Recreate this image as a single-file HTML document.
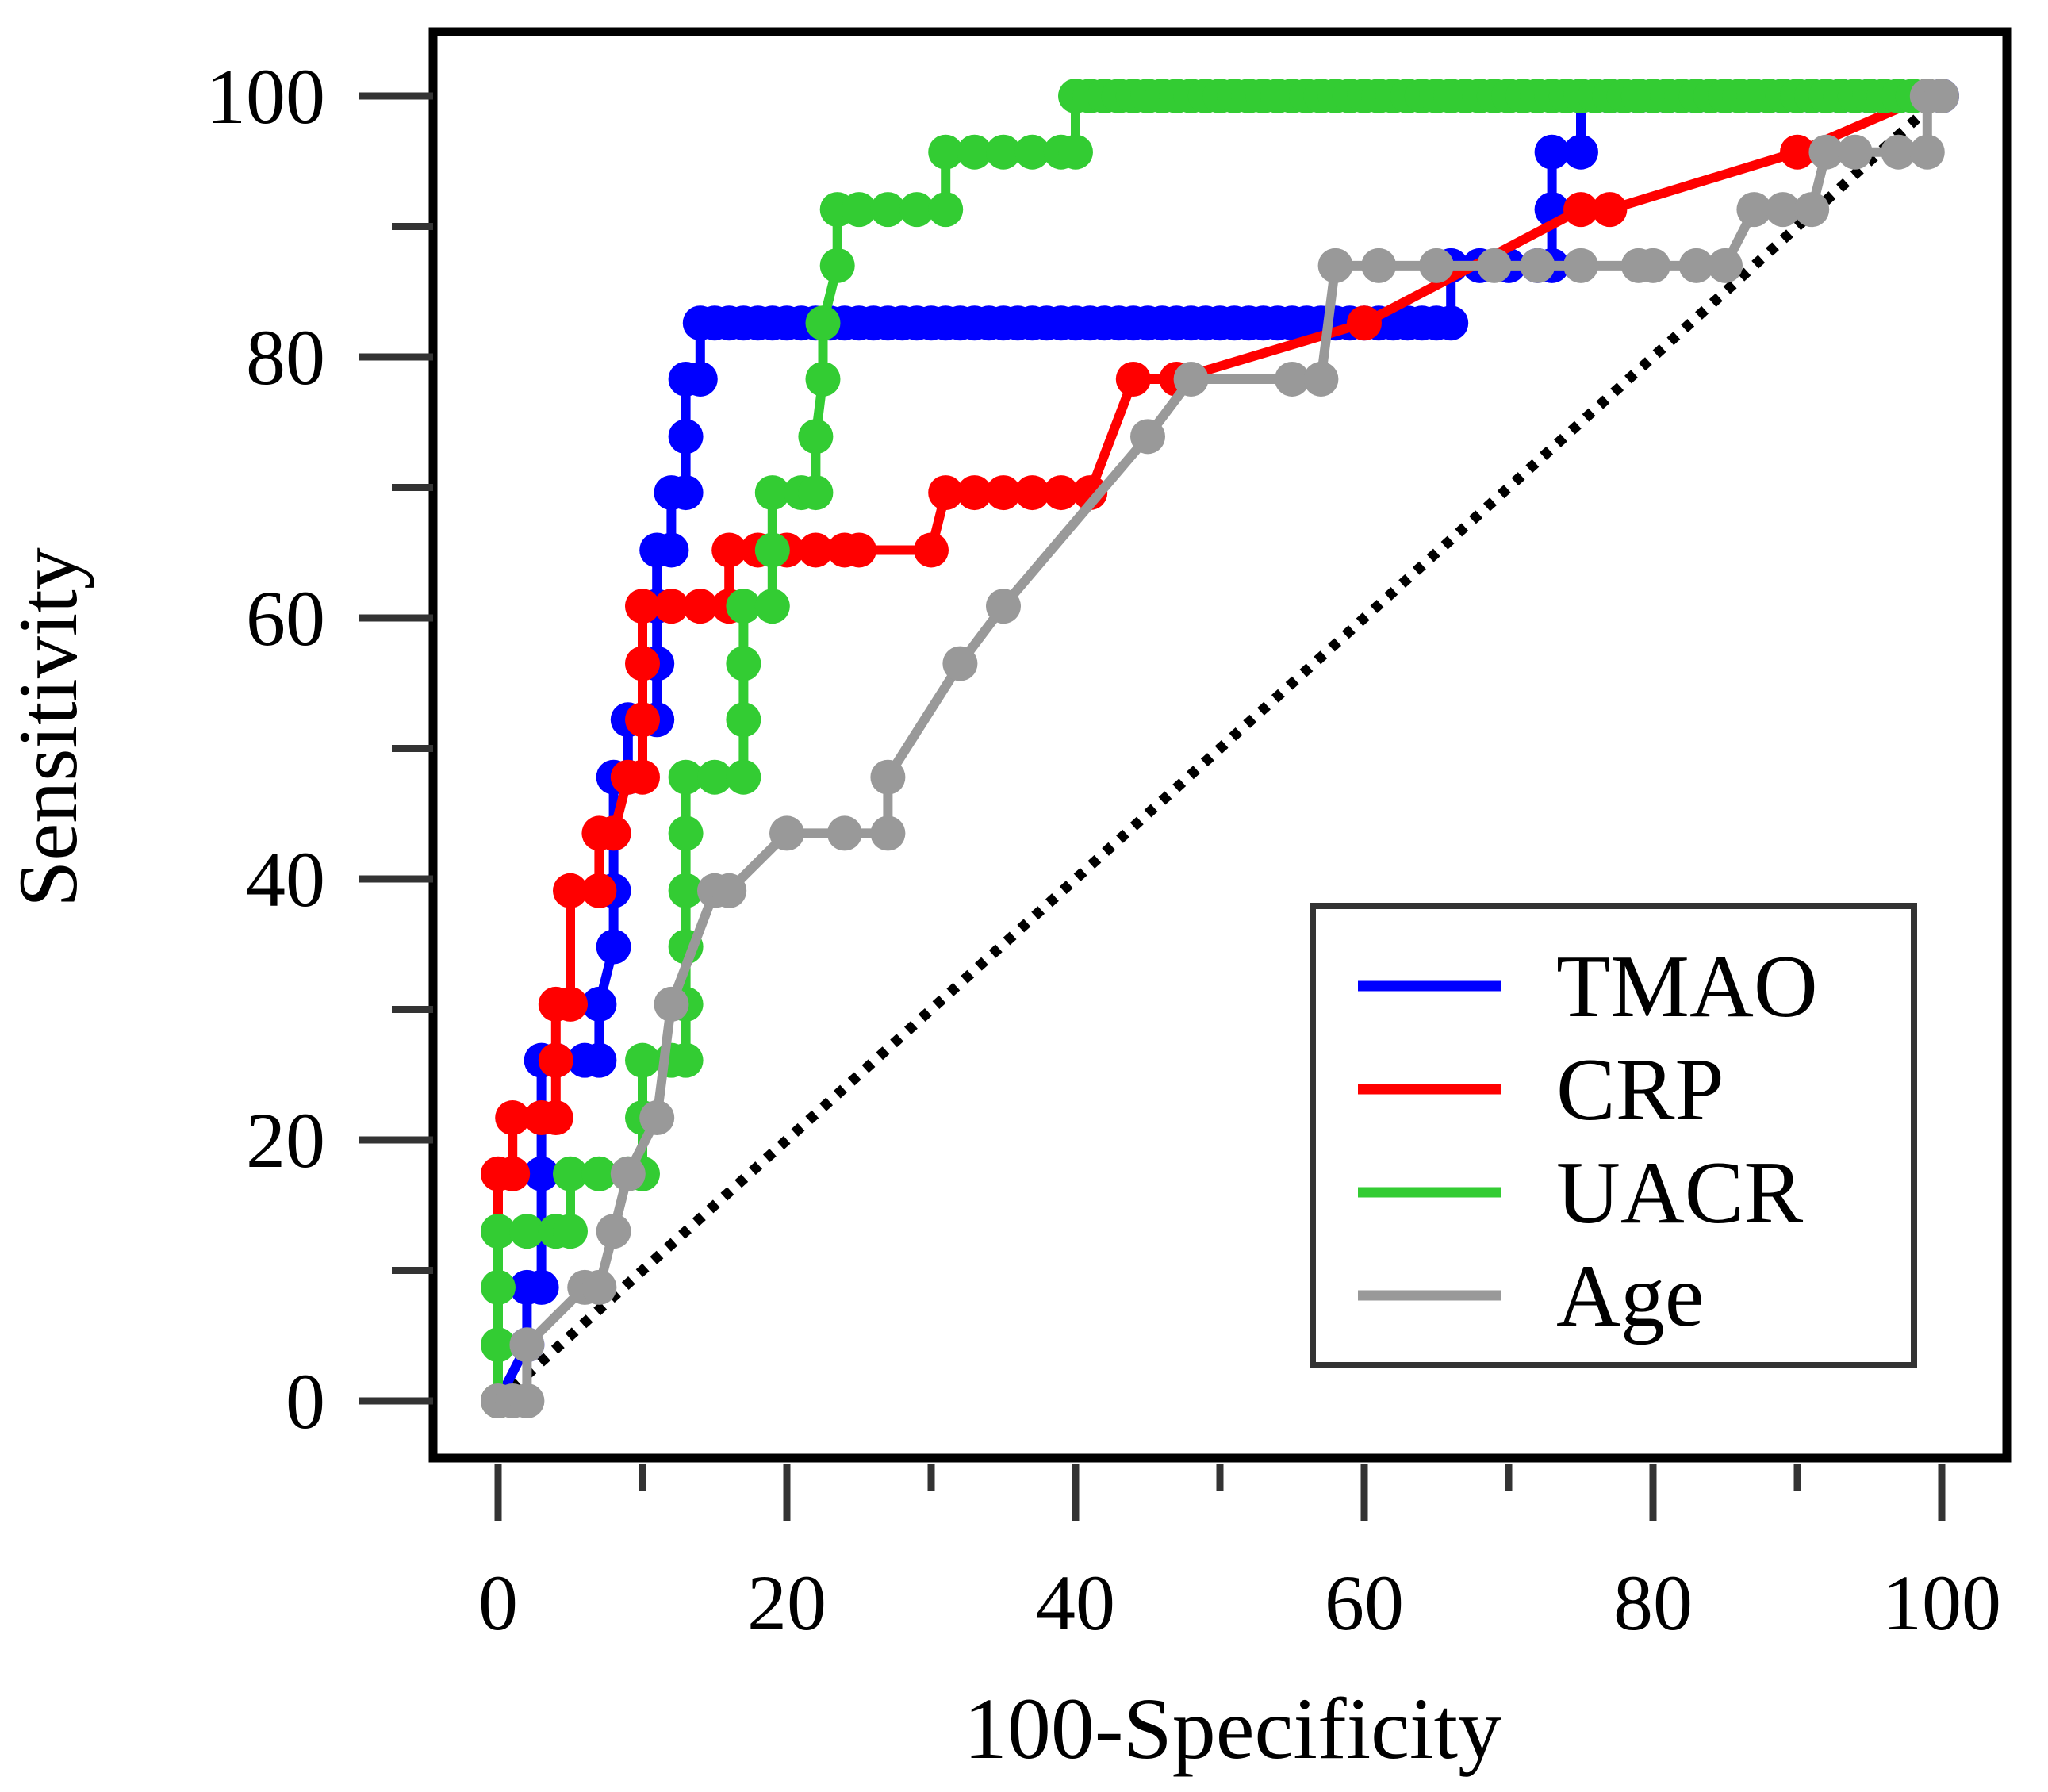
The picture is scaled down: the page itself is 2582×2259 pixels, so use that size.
<!DOCTYPE html>
<html><head><meta charset="utf-8"><style>
html,body{margin:0;padding:0;background:#fff;}
svg{display:block;font-family:"Liberation Serif",serif;}
</style></head><body>
<svg id="chart" width="2582" height="2259" viewBox="0 0 2582 2259">
<g id="axes"></g><g id="plot"></g><g id="legend"></g>
</svg>
<script>
const xTicks=[0,20,40,60,80,100];
const yTicks=[0,20,40,60,80,100];
const tmaoX=[0,2,2,3,3,3,4,6,7,7,8,8,8,8,9,9,11,11,11,11,12,12,13,13,13,14,14,15,16,17,18,19,20,21,22,23,24,25,26,27,28,29,30,31,32,33,34,35,36,37,38,39,40,41,42,43,44,45,46,47,48,49,50,51,52,53,54,55,56,57,58,59,60,61,62,63,64,65,66,66,68,70,72,73,73,73,75,75,77,79,81,83,85,87,89,91,93,95,97,99,100];
const tmaoY=[0,4.3,8.7,8.7,17.4,26.1,26.1,26.1,26.1,30.4,34.8,39.1,43.5,47.8,47.8,52.2,52.2,56.5,60.9,65.2,65.2,69.6,69.6,73.9,78.3,78.3,82.6,82.6,82.6,82.6,82.6,82.6,82.6,82.6,82.6,82.6,82.6,82.6,82.6,82.6,82.6,82.6,82.6,82.6,82.6,82.6,82.6,82.6,82.6,82.6,82.6,82.6,82.6,82.6,82.6,82.6,82.6,82.6,82.6,82.6,82.6,82.6,82.6,82.6,82.6,82.6,82.6,82.6,82.6,82.6,82.6,82.6,82.6,82.6,82.6,82.6,82.6,82.6,82.6,87,87,87,87,87,91.3,95.7,95.7,100,100,100,100,100,100,100,100,100,100,100,100,100,100];
const crpX=[0,0,1,1,3,4,4,4,5,5,7,7,8,9,10,10,10,10,12,14,16,16,18,20,22,24,25,30,31,33,35,37,39,41,44,47,60,75,77,90,99];
const crpY=[0,17.4,17.4,21.7,21.7,21.7,26.1,30.4,30.4,39.1,39.1,43.5,43.5,47.8,47.8,52.2,56.5,60.9,60.9,60.9,60.9,65.2,65.2,65.2,65.2,65.2,65.2,65.2,69.6,69.6,69.6,69.6,69.6,69.6,78.3,78.3,82.6,91.3,91.3,95.7,100];
const uacrX=[0,0,0,0,2,4,5,5,7,9,10,10,10,12,13,13,13,13,13,13,15,17,17,17,17,19,19,19,21,22,22,22.5,22.5,23.5,23.5,25,27,29,31,31,33,35,37,39,40,40,41,42,43,44,45,46,47,48,49,50,51,52,53,54,55,56,57,58,59,60,61,62,63,64,65,66,67,68,69,70,71,72,73,74,75,76,77,78,79,80,81,82,83,84,85,86,87,88,89,90,91,92,93,94,95,96,97,98,99];
const uacrY=[0,4.3,8.7,13,13,13,13,17.4,17.4,17.4,17.4,21.7,26.1,26.1,26.1,30.4,34.8,39.1,43.5,47.8,47.8,47.8,52.2,56.5,60.9,60.9,65.2,69.6,69.6,69.6,73.9,78.3,82.6,87,91.3,91.3,91.3,91.3,91.3,95.7,95.7,95.7,95.7,95.7,95.7,100,100,100,100,100,100,100,100,100,100,100,100,100,100,100,100,100,100,100,100,100,100,100,100,100,100,100,100,100,100,100,100,100,100,100,100,100,100,100,100,100,100,100,100,100,100,100,100,100,100,100,100,100,100,100,100,100,100,100,100];
const ageX=[0,1,2,2,6,7,8,9,11,12,15,16,20,24,27,27,32,35,45,48,55,57,58,61,65,69,72,75,79,80,83,85,87,89,91,92,94,97,99,99,100];
const ageY=[0,0,0,4.3,8.7,8.7,13,17.4,21.7,30.4,39.1,39.1,43.5,43.5,43.5,47.8,56.5,60.9,73.9,78.3,78.3,78.3,87,87,87,87,87,87,87,87,87,87,91.3,91.3,91.3,95.7,95.7,95.7,95.7,100,100];
const seriesNames=["TMAO","CRP","UACR","Age"];
const seriesColors=["#0000ff","#ff0000","#33cc33","#999999"];

const NS="http://www.w3.org/2000/svg";
const X0=628,X1=2448,Y0=1766,Y1=121;
function sx(v){return X0+(X1-X0)*v/100;}
function sy(v){return Y0-(Y0-Y1)*v/100;}
function mk(tag,attrs,parent){const e=document.createElementNS(NS,tag);for(const k in attrs)e.setAttribute(k,attrs[k]);parent.appendChild(e);return e;}
const axes=document.getElementById('axes'),plot=document.getElementById('plot'),legend=document.getElementById('legend');

const frame=mk('rect',{x:546,y:40,width:1984,height:1798,fill:'none',stroke:'#000','stroke-width':11},axes);



for(let i=0;i<=10;i++){
  const v=i*10,maj=i%2===0;
  const t=mk('line',{x1:sx(v),x2:sx(v),y1:1845,y2:maj?1918:1880,stroke:'#333','stroke-width':9},axes);
  
  
  const u=mk('line',{x1:maj?452:494,x2:546,y1:sy(v),y2:sy(v),stroke:'#333','stroke-width':9},axes);
  
  
}
xTicks.forEach(v=>{
  const t=mk('text',{x:sx(v),y:2054,'text-anchor':'middle','font-size':100,fill:'#000'},axes);
  t.textContent=v;
  
  
});
yTicks.forEach(v=>{
  const t=mk('text',{x:410,y:sy(v)+34,'text-anchor':'end','font-size':100,fill:'#000'},axes);
  t.textContent=v;
  
  
});
const xt=mk('text',{x:1554,y:2216,'text-anchor':'middle','font-size':110,fill:'#000'},axes);
xt.textContent='100-Specificity';


const yt=mk('text',{x:0,y:0,'text-anchor':'middle','font-size':106,fill:'#000',transform:'translate(96,917) rotate(-90)'},axes);
yt.textContent='Sensitivity';



const diag=mk('line',{x1:sx(0),y1:sy(0),x2:sx(100),y2:sy(100),stroke:'#000','stroke-width':13,'stroke-dasharray':'11 13'},plot);



const allX=[tmaoX,crpX,uacrX,ageX],allY=[tmaoY,crpY,uacrY,ageY];
allX.forEach((xs,si)=>{
  const g=mk('g',{},plot);
  
  
  const pts=xs.map((x,i)=>sx(x)+','+sy(allY[si][i])).join(' ');
  const pl=mk('polyline',{points:pts,fill:'none',stroke:seriesColors[si],'stroke-width':12,'stroke-linejoin':'round'},g);
  
  
  xs.forEach((x,i)=>{
    const c=mk('circle',{cx:sx(x),cy:sy(allY[si][i]),r:22,fill:seriesColors[si]},g);
    
    
  });
});

const lb=mk('rect',{x:1655,y:1142,width:758,height:579,fill:'#fff',stroke:'#333','stroke-width':8},legend);


seriesNames.forEach((n,i)=>{
  const y=1243+i*130;
  const g=mk('g',{},legend);
  
  
  mk('line',{x1:1712,x2:1893,y1:y,y2:y,stroke:seriesColors[i],'stroke-width':13},g);
  const t=mk('text',{x:1962,y:y+38,'font-size':112,fill:'#000'},g);
  t.textContent=n;
});
</script>
</body></html>
